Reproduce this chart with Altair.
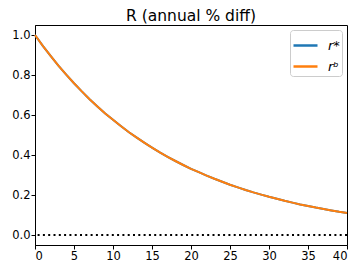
import altair as alt
import pandas as pd

t = list(range(41))
r_star = [1.000, 0.946, 0.896, 0.847, 0.802, 0.759, 0.718, 0.679, 0.643, 0.608,
          0.576, 0.545, 0.515, 0.488, 0.462, 0.437, 0.413, 0.391, 0.370, 0.350,
          0.331, 0.314, 0.297, 0.281, 0.266, 0.251, 0.238, 0.225, 0.213, 0.202,
          0.191, 0.181, 0.171, 0.162, 0.153, 0.145, 0.137, 0.130, 0.123, 0.116,
          0.110]
r_b = [1.000, 0.946, 0.896, 0.847, 0.802, 0.759, 0.718, 0.679, 0.643, 0.608,
       0.576, 0.545, 0.515, 0.488, 0.462, 0.437, 0.413, 0.391, 0.370, 0.350,
       0.331, 0.314, 0.297, 0.281, 0.266, 0.251, 0.238, 0.225, 0.213, 0.202,
       0.191, 0.181, 0.171, 0.162, 0.153, 0.145, 0.137, 0.130, 0.123, 0.116,
       0.110]
series_names = ["r*", "rᵇ"]
colors = ["#1f77b4", "#ff7f0e"]
x_ticks = [0, 5, 10, 15, 20, 25, 30, 35, 40]
y_ticks = [0.0, 0.2, 0.4, 0.6, 0.8, 1.0]

df = pd.DataFrame({
    "t": t + t,
    "value": r_star + r_b,
    "series": [series_names[0]] * len(t) + [series_names[1]] * len(t),
})
zero_df = pd.DataFrame({"y": [0.0]})

x_enc = alt.X("t:Q", scale=alt.Scale(domain=[0, 40], nice=False),
              axis=alt.Axis(values=x_ticks, title=None, grid=False, format="d"))
y_scale = alt.Scale(domain=[-0.05, 1.05], nice=False, zero=False)

lines = alt.Chart(df).mark_line(strokeWidth=2).encode(
    x=x_enc,
    y=alt.Y("value:Q", scale=y_scale,
            axis=alt.Axis(values=y_ticks, title=None, grid=False, format=".1f")),
    color=alt.Color("series:N", sort=series_names,
                    scale=alt.Scale(domain=series_names, range=colors),
                    legend=alt.Legend(title=None, orient="top-right",
                                      symbolType="stroke", symbolStrokeWidth=2.5,
                                      symbolSize=576,
                                      labelFontStyle="italic", labelFontSize=13,
                                      labelFont="DejaVu Sans",
                                      labelOffset=9, labelLimit=40,
                                      strokeColor="#cccccc", fillColor="white",
                                      cornerRadius=3, padding=2, offset=5,
                                      rowPadding=-6)),
)

zero = alt.Chart(zero_df).mark_rule(color="black", strokeWidth=2,
                                    strokeDash=[2, 3.3]).encode(
    y=alt.Y("y:Q", scale=y_scale)
)

chart = alt.layer(zero, lines).properties(
    width=312, height=220,
    title=alt.TitleParams("R (annual % diff)", fontSize=15.5, font="DejaVu Sans",
                          fontWeight="normal", offset=1),
    autosize=alt.AutoSizeParams(type="none"),
    padding={"left": 27, "top": 17, "right": 2, "bottom": 18},
).configure_view(stroke="black", strokeWidth=1).configure_axis(
    domainColor="black", tickColor="black", labelColor="black",
    labelFont="DejaVu Sans", labelFontSize=11.5, tickSize=4, labelPadding=1
)

chart.save("out.html", embed_options={"renderer": "svg", "actions": False})
